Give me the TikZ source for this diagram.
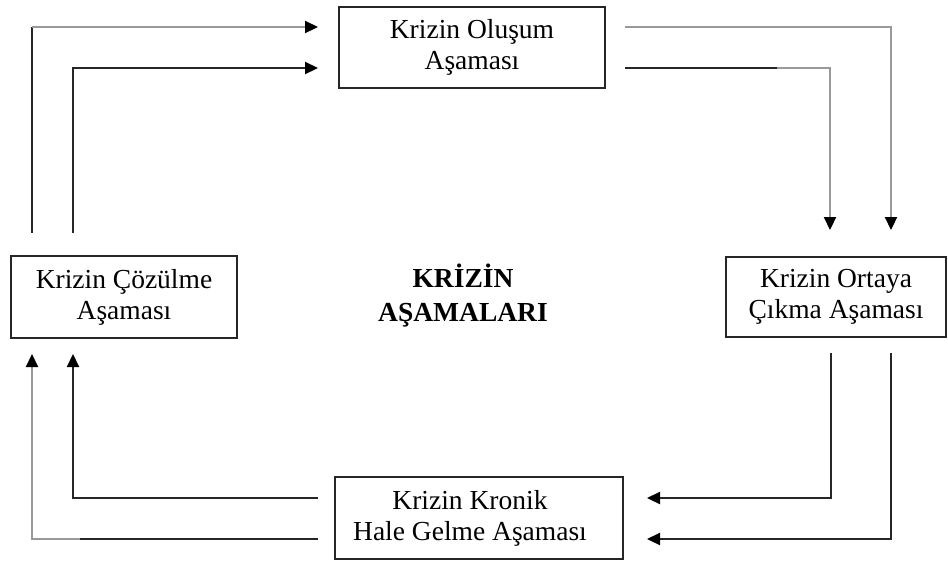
\documentclass[tikz,border=0pt]{standalone}
\usepackage{fontspec}
\setmainfont{Liberation Serif}
\usetikzlibrary{arrows.meta}
\definecolor{dk}{gray}{0.15}
\definecolor{lt}{gray}{0.6}
\begin{document}
\begin{tikzpicture}[x=1pt,y=-1pt,
  box/.style={draw=black!85,line width=1.8pt,align=center,inner sep=0pt,
    font=\fontsize{27.5}{31}\selectfont},
  ln/.style={line width=2.2pt,line join=miter},
  tip/.style={-{Triangle[length=13pt,width=12pt,color=black,fill=black]}}]
\useasboundingbox (0,0) rectangle (948,563);
% boxes
\node[box,minimum width=266pt,minimum height=81pt] (olus) at (472,47.5) {Krizin Oluşum\\Aşaması};
\node[box,minimum width=226pt,minimum height=82pt] (cozul) at (124,297) {Krizin Çözülme\\Aşaması};
\node[box,minimum width=220pt,minimum height=80pt] (orta) at (836,297) {Krizin Ortaya\\Çıkma Aşaması};
\node[box,minimum width=288pt,minimum height=82pt] (kron) at (479,518) {Krizin Kronik\hspace*{18pt}\\Hale Gelme Aşaması\hspace*{18pt}};
\node[font=\fontsize{27.5}{34}\selectfont\bfseries,align=center] (title) at (463,296) {KRİZİN\\AŞAMALARI};
% coordinates
\coordinate (a1) at (32,233);  \coordinate (a1c) at (32,27);  \coordinate (a1e) at (318,27);
\coordinate (a2) at (73,233);  \coordinate (a2c) at (73,68);  \coordinate (a2e) at (318,68);
\coordinate (b1) at (625,27);  \coordinate (b1c) at (891,27); \coordinate (b1e) at (891,230);
\coordinate (b2) at (625,68);  \coordinate (b2m) at (777,68); \coordinate (b2c) at (830,68); \coordinate (b2e) at (830,230);
\coordinate (c1) at (831,353); \coordinate (c1c) at (831,498); \coordinate (c1e) at (647,498);
\coordinate (c2) at (891,353); \coordinate (c2c) at (891,539); \coordinate (c2e) at (647,539);
\coordinate (d1) at (318,498); \coordinate (d1c) at (73,498);  \coordinate (d1e) at (73,354);
\coordinate (d2) at (318,539); \coordinate (d2m) at (80,539);  \coordinate (d2c) at (32,539); \coordinate (d2e) at (32,354);
% left -> top
\draw[ln,dk] (a1) -- (a1c);
\draw[ln,lt,tip] (a1c) -- (a1e);
\draw[ln,dk,tip] (a2) -- (a2c) -- (a2e);
% top -> right
\draw[ln,lt,tip] (b1) -- (b1c) -- (b1e);
\draw[ln,dk] (b2) -- (b2m);
\draw[ln,lt,tip] (b2m) -- (b2c) -- (b2e);
% right -> bottom
\draw[ln,dk,tip] (c1) -- (c1c) -- (c1e);
\draw[ln,dk,tip] (c2) -- (c2c) -- (c2e);
% bottom -> left
\draw[ln,dk,tip] (d1) -- (d1c) -- (d1e);
\draw[ln,dk] (d2) -- (d2m);
\draw[ln,lt,tip] (d2m) -- (d2c) -- (d2e);
\end{tikzpicture}
\end{document}
